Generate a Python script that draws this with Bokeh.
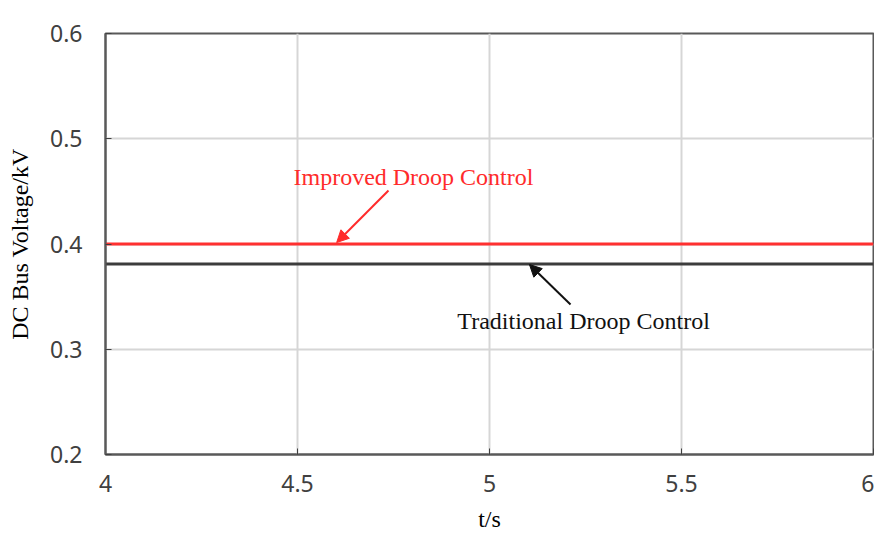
from bokeh.plotting import figure
from bokeh.models import Arrow, NormalHead, Label, Range1d, FixedTicker
from bokeh.embed import file_html
from bokeh.resources import INLINE

# ---- data ----
t = [4.0, 6.0]
improved = [0.400, 0.400]
traditional = [0.381, 0.381]
x_ticks = [4, 4.5, 5, 5.5, 6]
y_ticks = [0.2, 0.3, 0.4, 0.5, 0.6]

improved_label = "Improved Droop Control"
traditional_label = "Traditional Droop Control"
improved_text_xy = (4.802, 0.4632)
improved_arrow = (4.737, 0.4508, 4.602, 0.4014)
traditional_text_xy = (5.245, 0.3273)
traditional_arrow = (5.211, 0.3425, 5.104, 0.3805)

SERIF = "Liberation Serif"
SANS = "Noto Sans"

p = figure(frame_width=768, frame_height=421, output_backend="svg", toolbar_location=None,
           x_range=Range1d(4, 6), y_range=Range1d(0.2, 0.6),
           min_border_left=105, min_border_top=33, min_border_right=1,
           min_border_bottom=60, background_fill_color="white",
           border_fill_color="white")

p.line(t, improved, line_color="#ff3030", line_width=3)
p.line(t, traditional, line_color="#3c3c3c", line_width=3)

p.outline_line_color = "#595959"
p.outline_line_width = 2
p.outline_line_alpha = 1

for ax in (p.xaxis[0], p.yaxis[0]):
    ax.axis_line_color = "#595959"
    ax.axis_line_width = 2
    ax.major_tick_in = 6
    ax.major_tick_out = 0
    ax.major_tick_line_color = "#404040"
    ax.minor_tick_line_color = None
    ax.major_label_text_font = SANS
    ax.major_label_text_font_size = "23px"
    ax.major_label_text_color = "#404040"

p.xaxis[0].ticker = FixedTicker(ticks=x_ticks)
p.yaxis[0].ticker = FixedTicker(ticks=y_ticks)
p.xaxis[0].major_label_standoff = 20
p.yaxis[0].major_label_standoff = 23

p.yaxis[0].axis_label = "DC Bus Voltage/kV"
p.yaxis[0].axis_label_text_font = SERIF
p.yaxis[0].axis_label_text_font_size = "24px"
p.yaxis[0].axis_label_text_font_style = "normal"
p.yaxis[0].axis_label_text_color = "#000000"
p.yaxis[0].axis_label_standoff = 14

p.xaxis[0].axis_label = "t/s"
p.xaxis[0].axis_label_text_font = SERIF
p.xaxis[0].axis_label_text_font_size = "24px"
p.xaxis[0].axis_label_text_font_style = "normal"
p.xaxis[0].axis_label_text_color = "#000000"
p.xaxis[0].axis_label_standoff = 11

p.xgrid.grid_line_color = "#d6d6d6"
p.ygrid.grid_line_color = "#d6d6d6"
p.xgrid.grid_line_width = 2
p.ygrid.grid_line_width = 2

# annotations
p.add_layout(Label(x=improved_text_xy[0], y=improved_text_xy[1], text=improved_label,
                   text_font=SERIF, text_font_size="24px", text_align="center",
                   text_baseline="middle", text_color="#ff2b2b"))
p.add_layout(Arrow(x_start=improved_arrow[0], y_start=improved_arrow[1],
                   x_end=improved_arrow[2], y_end=improved_arrow[3],
                   line_color="#ff2b2b", line_width=2,
                   end=NormalHead(size=12, fill_color="#ff2b2b", line_color="#ff2b2b")))

p.add_layout(Label(x=traditional_text_xy[0], y=traditional_text_xy[1], text=traditional_label,
                   text_font=SERIF, text_font_size="24px", text_align="center",
                   text_baseline="middle", text_color="#111111"))
p.add_layout(Arrow(x_start=traditional_arrow[0], y_start=traditional_arrow[1],
                   x_end=traditional_arrow[2], y_end=traditional_arrow[3],
                   line_color="#111111", line_width=2,
                   end=NormalHead(size=12, fill_color="#111111", line_color="#111111")))

open("out.html", "w").write(file_html(p, INLINE))
